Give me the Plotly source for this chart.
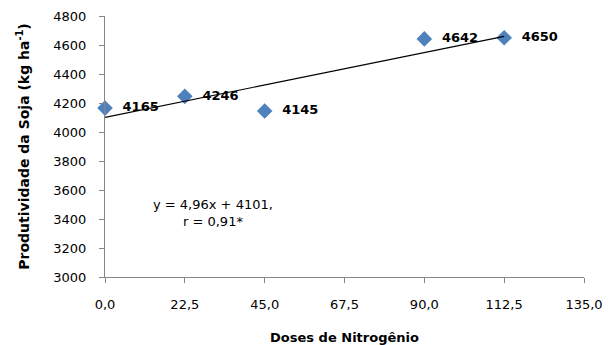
import plotly.graph_objects as go

doses = [0.0, 22.5, 45.0, 90.0, 112.5]
produtividade = [4165, 4246, 4145, 4642, 4650]
labels = ["4165", "4246", "4145", "4642", "4650"]
slope, intercept = 4.96, 4101
x_ticks = [0, 22.5, 45, 67.5, 90, 112.5, 135]
x_ticklabels = ["0,0", "22,5", "45,0", "67,5", "90,0", "112,5", "135,0"]
y_ticks = [3000, 3200, 3400, 3600, 3800, 4000, 4200, 4400, 4600, 4800]

font = "DejaVu Sans, Arial, sans-serif"
fig = go.Figure()
fig.add_trace(go.Scatter(
    x=doses, y=produtividade, mode="markers+text",
    marker=dict(symbol="diamond", size=12, color="#4F81BD", line=dict(width=0)),
    text=["  " + t for t in labels], textposition="middle right",
    textfont=dict(family=font, size=13, color="black", weight="bold"),
    cliponaxis=False, showlegend=False))
tx = [doses[0], doses[-1]]
fig.add_trace(go.Scatter(
    x=tx, y=[slope * v + intercept for v in tx], mode="lines",
    line=dict(color="black", width=1.2), showlegend=False))

fig.add_annotation(x=30.3, y=3441, xref="x", yref="y",
                   text="y = 4,96x + 4101,<br>r = 0,91*", showarrow=False,
                   font=dict(family=font, size=13, color="black"), align="center")

fig.update_layout(
    width=606, height=337, plot_bgcolor="white", paper_bgcolor="white",
    margin=dict(l=97, r=30, t=8, b=68),
    font=dict(family=font, size=13, color="black"),
    xaxis=dict(range=[0, 135], tickvals=x_ticks, ticktext=x_ticklabels,
               showgrid=False, zeroline=False, showline=True, linecolor="#868686",
               linewidth=1, ticks="outside", tickcolor="#868686", ticklen=5,
               tickfont=dict(size=13), ticklabelstandoff=10, automargin=False,
               title=dict(text="<b>Doses de Nitrogênio</b>", font=dict(size=13), standoff=24)),
    yaxis=dict(range=[3000, 4800], tickvals=y_ticks,
               showgrid=False, zeroline=False, showline=True, linecolor="#868686",
               linewidth=1, ticks="outside", tickcolor="#868686", ticklen=5,
               tickfont=dict(size=13), ticklabelstandoff=10, automargin=False,
               title=dict(text="<b>Produtividade da Soja (kg ha<sup>-1</sup>)</b>",
                          font=dict(size=14), standoff=20)),
)
fig.write_html("out.html")
